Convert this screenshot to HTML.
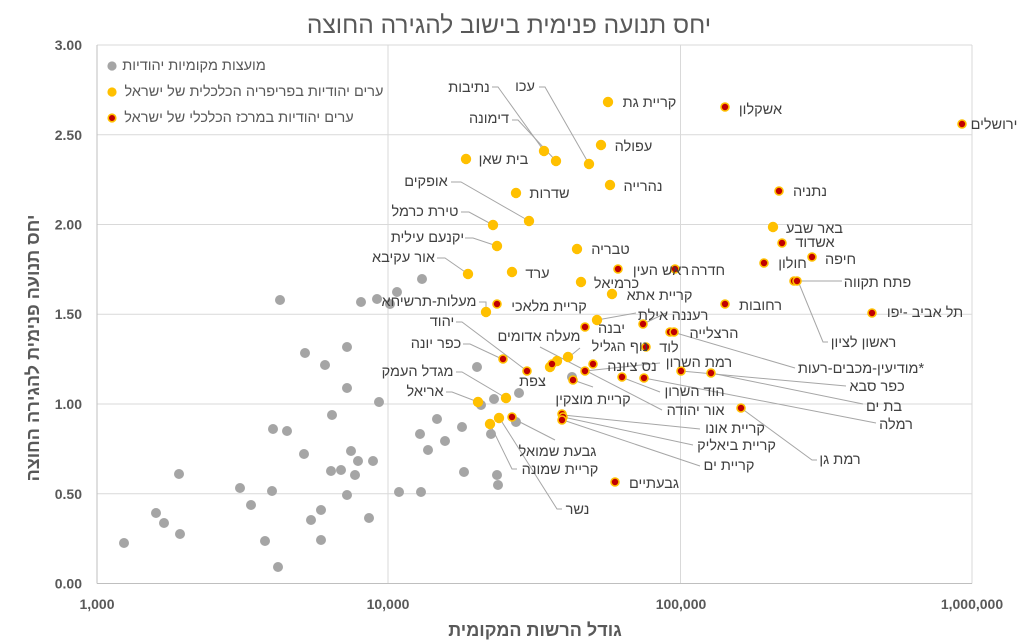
<!DOCTYPE html>
<html><head><meta charset="utf-8"><style>
html,body{margin:0;padding:0;background:#fff;}
svg{display:block;}
text{font-family:"Liberation Sans","Noto Sans CJK JP",sans-serif;}
.lb{font-size:14.5px;fill:#404040;}
.tk{font-size:14px;font-weight:bold;fill:#595959;}
.ld{stroke:#A6A6A6;stroke-width:1;fill:none;}
.g{fill:#A5A5A5;}
.y{fill:#FFC000;}
.r{fill:#C00000;stroke:#FFC000;stroke-width:1.6;}
</style></head><body>
<svg width="1020" height="643" viewBox="0 0 1020 643" xmlns="http://www.w3.org/2000/svg">
<rect width="1020" height="643" fill="#fff"/>
<text x="509" y="33" text-anchor="middle" direction="rtl" style="font-size:24.5px;fill:#595959">יחס תנועה פנימית בישוב להגירה החוצה</text>
<!-- gridlines -->
<g stroke="#D9D9D9" stroke-width="1">
<line x1="97" y1="45" x2="972" y2="45"/>
<line x1="97" y1="134.75" x2="972" y2="134.75"/>
<line x1="97" y1="224.5" x2="972" y2="224.5"/>
<line x1="97" y1="314.25" x2="972" y2="314.25"/>
<line x1="97" y1="404" x2="972" y2="404"/>
<line x1="97" y1="493.75" x2="972" y2="493.75"/>
<line x1="388" y1="45" x2="388" y2="583.5"/>
<line x1="680.5" y1="45" x2="680.5" y2="583.5"/>
<line x1="972" y1="45" x2="972" y2="583.5"/>
</g>
<g stroke="#BFBFBF" stroke-width="1">
<line x1="97" y1="45" x2="97" y2="583.5"/>
<line x1="97" y1="583.5" x2="972" y2="583.5"/>
</g>
<!-- tick labels -->
<g class="tk" text-anchor="end">
<text x="82" y="50">3.00</text>
<text x="82" y="140">2.50</text>
<text x="82" y="229.5">2.00</text>
<text x="82" y="319">1.50</text>
<text x="82" y="409">1.00</text>
<text x="82" y="499">0.50</text>
<text x="82" y="588.5">0.00</text>
</g>
<g class="tk" text-anchor="middle">
<text x="97" y="609">1,000</text>
<text x="388" y="609">10,000</text>
<text x="681" y="609">100,000</text>
<text x="972" y="609">1,000,000</text>
</g>
<text x="535" y="636" text-anchor="middle" direction="rtl" style="font-size:18px;font-weight:bold;fill:#595959">גודל הרשות המקומית</text>
<text transform="translate(39,348) rotate(-90)" x="0" y="0" text-anchor="middle" direction="rtl" style="font-size:18px;font-weight:bold;fill:#595959">יחס תנועה פנימית להגירה החוצה</text>

<!-- legend -->
<circle cx="112" cy="66" r="4.6" class="g"/>
<circle cx="112" cy="92" r="4.6" class="y"/>
<circle cx="112" cy="118" r="3.8" class="r"/>
<g style="font-size:14.5px;fill:#595959" text-anchor="middle" direction="rtl">
<text x="194" y="70">מועצות מקומיות יהודיות</text>
<text x="254" y="96">ערים יהודיות בפריפריה הכלכלית של ישראל</text>
<text x="239" y="122">ערים יהודיות במרכז הכלכלי של ישראל</text>
</g>

<!-- leader lines -->
<g class="ld">
<polyline points="492,87 498,87 544,151"/>
<polyline points="512,120 518,120 556,161"/>
<polyline points="539,87 545,87 589,164"/>
<polyline points="451,182 461,182 529,221"/>
<polyline points="461,212 469,212 493,225"/>
<polyline points="465,238 473,238 497,246"/>
<polyline points="437,258 445,258 468,274"/>
<polyline points="479,302 486,302 486,312"/>
<polyline points="456,322 462,322 527,371"/>
<polyline points="463,344 470,344 502,359"/>
<polyline points="456,372 462,372 506,398"/>
<polyline points="446,392 452,392 478,402"/>
<polyline points="597,320 636,313"/>
<polyline points="643,324 666,313"/>
<polyline points="676,333 795,368"/>
<polyline points="798,281 823,342 828,342"/>
<polyline points="798,281 842,281"/>
<polyline points="681,371 846,386"/>
<polyline points="711,373 863,404"/>
<polyline points="644,378 876,423"/>
<polyline points="621,377 660,392"/>
<polyline points="540,347 662,410"/>
<polyline points="741,408 812,460 817,460"/>
<polyline points="563,415 700,429"/>
<polyline points="563,417 693,445"/>
<polyline points="563,420 700,466"/>
<polyline points="573,380 593,387"/>
<polyline points="512,418 555,440"/>
<polyline points="491,426 512,469 517,469"/>
<polyline points="502,422 557,509 562,509"/>
<polyline points="585,371 660,363"/>
<polyline points="580,348 569,357"/>
</g>

<!-- gray series -->
<g class="g">
<circle cx="124" cy="543" r="5"/><circle cx="156" cy="513" r="5"/><circle cx="164" cy="523" r="5"/><circle cx="179" cy="474" r="5"/><circle cx="180" cy="534" r="5"/>
<circle cx="240" cy="488" r="5"/><circle cx="251" cy="505" r="5"/><circle cx="265" cy="541" r="5"/><circle cx="272" cy="491" r="5"/><circle cx="273" cy="429" r="5"/><circle cx="278" cy="567" r="5"/><circle cx="280" cy="300" r="5"/><circle cx="287" cy="431" r="5"/>
<circle cx="304" cy="454" r="5"/><circle cx="305" cy="353" r="5"/><circle cx="311" cy="520" r="5"/><circle cx="321" cy="510" r="5"/><circle cx="321" cy="540" r="5"/><circle cx="325" cy="365" r="5"/><circle cx="331" cy="471" r="5"/><circle cx="332" cy="415" r="5"/><circle cx="341" cy="470" r="5"/>
<circle cx="347" cy="347" r="5"/><circle cx="347" cy="388" r="5"/><circle cx="347" cy="495" r="5"/><circle cx="351" cy="451" r="5"/><circle cx="355" cy="475" r="5"/><circle cx="358" cy="461" r="5"/><circle cx="361" cy="302" r="5"/><circle cx="369" cy="518" r="5"/><circle cx="373" cy="461" r="5"/><circle cx="377" cy="299" r="5"/><circle cx="379" cy="402" r="5"/><circle cx="390" cy="304" r="5"/><circle cx="397" cy="292" r="5"/><circle cx="399" cy="492" r="5"/>
<circle cx="420" cy="434" r="5"/><circle cx="421" cy="492" r="5"/><circle cx="422" cy="279" r="5"/><circle cx="428" cy="450" r="5"/><circle cx="437" cy="419" r="5"/><circle cx="445" cy="441" r="5"/><circle cx="462" cy="427" r="5"/><circle cx="464" cy="472" r="5"/><circle cx="477" cy="367" r="5"/><circle cx="481" cy="405" r="5"/><circle cx="491" cy="434" r="5"/><circle cx="494" cy="399" r="5"/><circle cx="497" cy="475" r="5"/><circle cx="498" cy="485" r="5"/><circle cx="516" cy="422" r="5"/><circle cx="519" cy="393" r="5"/><circle cx="572" cy="377" r="5"/>
</g>

<!-- yellow series -->
<g class="y">
<circle cx="608" cy="102" r="5.2"/><circle cx="601" cy="145" r="5.2"/><circle cx="544" cy="151" r="5.2"/><circle cx="556" cy="161" r="5.2"/><circle cx="589" cy="164" r="5.2"/><circle cx="466" cy="159" r="5.2"/><circle cx="610" cy="185" r="5.2"/><circle cx="516" cy="193" r="5.2"/><circle cx="529" cy="221" r="5.2"/><circle cx="493" cy="225" r="5.2"/><circle cx="497" cy="246" r="5.2"/><circle cx="577" cy="249" r="5.2"/><circle cx="468" cy="274" r="5.2"/><circle cx="512" cy="272" r="5.2"/><circle cx="581" cy="282" r="5.2"/><circle cx="612" cy="294" r="5.2"/><circle cx="486" cy="312" r="5.2"/><circle cx="597" cy="320" r="5.2"/><circle cx="568" cy="357" r="5.2"/><circle cx="557" cy="361" r="5.2"/><circle cx="550" cy="367" r="5.2"/><circle cx="506" cy="398" r="5.2"/><circle cx="478" cy="402" r="5.2"/><circle cx="499" cy="418" r="5.2"/><circle cx="490" cy="424" r="5.2"/><circle cx="773" cy="227" r="5.2"/>
</g>

<!-- red series -->
<g class="r">
<circle cx="725" cy="107" r="4"/><circle cx="962" cy="124" r="4"/><circle cx="779" cy="191" r="4"/><circle cx="782" cy="243" r="4"/><circle cx="812" cy="257" r="4"/><circle cx="764" cy="263" r="4"/><circle cx="794" cy="281" r="4"/><circle cx="797" cy="281" r="4"/><circle cx="725" cy="304" r="4"/><circle cx="872" cy="313" r="4"/><circle cx="618" cy="269" r="4"/><circle cx="675" cy="269" r="4"/><circle cx="497" cy="304" r="4"/><circle cx="585" cy="327" r="4"/><circle cx="643" cy="324" r="4"/><circle cx="670" cy="332" r="4"/><circle cx="674" cy="332" r="4"/><circle cx="646" cy="347" r="4"/><circle cx="503" cy="359" r="4"/><circle cx="527" cy="371" r="4"/><circle cx="552" cy="364" r="4"/><circle cx="593" cy="364" r="4"/><circle cx="585" cy="371" r="4"/><circle cx="573" cy="380" r="4"/><circle cx="622" cy="377" r="4"/><circle cx="644" cy="378" r="4"/><circle cx="681" cy="371" r="4"/><circle cx="711" cy="373" r="4"/><circle cx="741" cy="408" r="4"/><circle cx="512" cy="417" r="4"/><circle cx="562" cy="414" r="4"/><circle cx="563" cy="417" r="4"/><circle cx="562" cy="420" r="4"/><circle cx="615" cy="482" r="4"/>
</g>

<!-- data labels -->
<g class="lb" text-anchor="middle" direction="rtl">
<text x="469" y="92">נתיבות</text>
<text x="489" y="123">דימונה</text>
<text x="503.5" y="164">בית שאן</text>
<text x="426" y="186">אופקים</text>
<text x="425" y="216">טירת כרמל</text>
<text x="427.5" y="242">יקנעם עילית</text>
<text x="403.5" y="262">אור עקיבא</text>
<text x="429" y="306">מעלות-תרשיחא</text>
<text x="442" y="326">יהוד</text>
<text x="436" y="348">כפר יונה</text>
<text x="417.5" y="376">מגדל העמק</text>
<text x="425" y="396">אריאל</text>
<text x="525" y="91">עכו</text>
<text x="649.5" y="107">קריית גת</text>
<text x="633.5" y="151">עפולה</text>
<text x="643" y="191">נהרייה</text>
<text x="549.5" y="198">שדרות</text>
<text x="610.5" y="254">טבריה</text>
<text x="537.5" y="278">ערד</text>
<text x="616.5" y="288">כרמיאל</text>
<text x="659.5" y="300">קריית אתא</text>
<text x="549" y="311">קריית מלאכי</text>
<text x="661" y="275">ראש העין</text>
<text x="708" y="275">חדרה</text>
<text x="653" y="320">אילת</text>
<text x="690" y="320">רעננה</text>
<text x="611.5" y="333">יבנה</text>
<text x="714" y="338">הרצלייה</text>
<text x="620" y="351">נוף הגליל</text>
<text x="669" y="352">לוד</text>
<text x="539" y="341">מעלה אדומים</text>
<text x="861" y="373">*מודיעין-מכבים-רעות</text>
<text x="863.5" y="347">ראשון לציון</text>
<text x="877.5" y="287">פתח תקווה</text>
<text x="877" y="391">כפר סבא</text>
<text x="884" y="411">בת ים</text>
<text x="896" y="429">רמלה</text>
<text x="694.5" y="396">הוד השרון</text>
<text x="695.5" y="415">אור יהודה</text>
<text x="840" y="464">רמת גן</text>
<text x="735" y="433">קריית אונו</text>
<text x="736.5" y="450">קריית ביאליק</text>
<text x="729" y="470">קריית ים</text>
<text x="654" y="488">גבעתיים</text>
<text x="593" y="404">קריית מוצקין</text>
<text x="532.5" y="386">צפת</text>
<text x="557.5" y="456">גבעת שמואל</text>
<text x="560" y="474">קריית שמונה</text>
<text x="577.5" y="514">נשר</text>
<text x="699" y="367">רמת השרון</text>
<text x="632" y="371">נס ציונה</text>
<text x="760.5" y="310">רחובות</text>
<text x="925" y="317">תל אביב -יפו</text>
<text x="810" y="196">נתניה</text>
<text x="814.5" y="233">באר שבע</text>
<text x="815" y="247">אשדוד</text>
<text x="840.5" y="264">חיפה</text>
<text x="792.5" y="268">חולון</text>
<text x="760.5" y="114">אשקלון</text>
<text x="994" y="129">ירושלים</text>
</g>
</svg>
</body></html>
